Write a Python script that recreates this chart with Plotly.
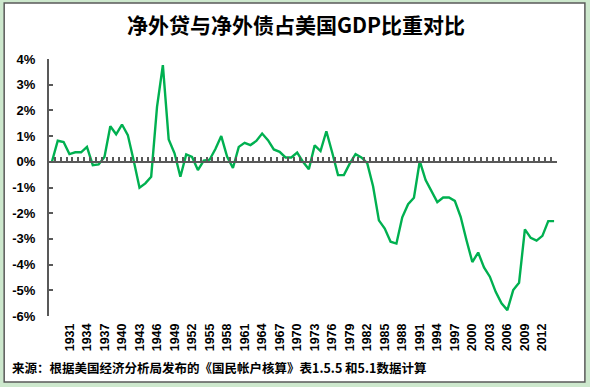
import plotly.graph_objects as go

# ---- data ----
years = list(range(1928, 2015))
net_lending_pct = [
    0.00, 0.82, 0.77, 0.30, 0.37, 0.37, 0.58, -0.13, -0.10, 0.19,
    1.38, 1.07, 1.45, 1.04, 0.05, -1.01, -0.84, -0.58, 2.14, 3.76,
    0.87, 0.33, -0.58, 0.29, 0.19, -0.32, 0.05, 0.08, 0.50, 1.00,
    0.20, -0.24, 0.58, 0.74, 0.65, 0.81, 1.10, 0.84, 0.48, 0.39,
    0.17, 0.17, 0.36, 0.00, -0.29, 0.64, 0.42, 1.19, 0.36, -0.52,
    -0.52, -0.07, 0.30, 0.17, -0.05, -0.95, -2.28, -2.60, -3.11, -3.18,
    -2.16, -1.65, -1.40, 0.03, -0.71, -1.15, -1.57, -1.39, -1.39, -1.52,
    -2.14, -3.05, -3.90, -3.53, -4.11, -4.47, -5.06, -5.51, -5.77, -4.99,
    -4.71, -2.63, -2.96, -3.07, -2.88, -2.31, -2.31,
]
x_tick_years = list(range(1931, 2013, 3))
x_tick_labels = [str(y) for y in x_tick_years]
y_tick_vals = list(range(-6, 5))
y_tick_labels = [f"{v}%" for v in y_tick_vals]

title_text = "净外贷与净外债占美国GDP比重对比"
source_text = "来源：根据美国经济分析局发布的《国民帐户核算》表1.5.5 和5.1数据计算"

# ---- layout geometry (pixels) ----
W, H = 590, 387
L, R, T, B = 47, 33, 59, 71
pw, ph = W - L - R, H - T - B

def fx(px):
    return (px - L) / pw

def fy(py):
    return (H - B - py) / ph

axis_col = "#595959"
line_col = "#00B050"

fig = go.Figure()
fig.add_trace(go.Scatter(
    x=years, y=net_lending_pct, mode="lines",
    line=dict(color=line_col, width=2.4),
    hoverinfo="x+y", showlegend=False,
))
# invisible trace to register the overlaid zero-line axis
fig.add_trace(go.Scatter(
    x=years[:1], y=net_lending_pct[:1], xaxis="x2", mode="markers",
    marker=dict(opacity=0), hoverinfo="skip", showlegend=False,
))

xr = [years[0] - 0.5, years[-1] + 0.5]
fig.update_layout(
    width=W, height=H,
    margin=dict(l=L, r=R, t=T, b=B, pad=0),
    paper_bgcolor="#CDE8CD",
    plot_bgcolor="rgba(0,0,0,0)",
    xaxis=dict(
        range=xr, tickmode="array", tickvals=x_tick_years, ticktext=x_tick_labels,
        tickangle=-90, showline=False, showgrid=False, zeroline=False, ticks="",
        tickfont=dict(family="Liberation Sans", size=12.5, color="#000000", weight="bold"),
        ticklabelstandoff=4,
    ),
    xaxis2=dict(
        range=xr, overlaying="x", anchor="free", position=0.6,
        showline=True, linecolor=axis_col, linewidth=2,
        ticks="inside", tickmode="linear", tick0=years[0] - 0.5, dtick=1,
        ticklen=4, tickwidth=1.5, tickcolor=axis_col,
        showticklabels=False, showgrid=False, zeroline=False,
    ),
    yaxis=dict(
        range=[-6, 4], tickmode="array", tickvals=y_tick_vals, ticktext=y_tick_labels,
        showline=True, linecolor=axis_col, linewidth=2,
        ticks="inside", ticklen=4, tickwidth=1.5, tickcolor=axis_col,
        showgrid=False, zeroline=False,
        tickfont=dict(family="Liberation Sans", size=13, color="#000000", weight="bold"),
        ticklabelstandoff=9,
    ),
    shapes=[dict(
        type="rect", xref="paper", yref="paper", layer="below",
        x0=fx(2), x1=fx(585), y0=fy(382), y1=fy(3),
        fillcolor="#FFFFFF", line=dict(color="#5A5A5A", width=1.5),
    )],
    annotations=[
        dict(text=title_text, xref="paper", yref="paper", x=fx(295), y=fy(24),
             xanchor="center", yanchor="middle", showarrow=False,
             font=dict(family="Noto Sans CJK SC", size=21, color="#000000", weight="bold")),
        dict(text=source_text, xref="paper", yref="paper", x=fx(8), y=fy(367),
             xanchor="left", yanchor="middle", showarrow=False,
             font=dict(family="Noto Sans CJK SC", size=12.5, color="#000000", weight="bold")),
    ],
)

fig.write_html(
    "out.html",
    config={"displayModeBar": False},
    post_script="document.body.style.margin='0';document.body.style.padding='0';",
)
